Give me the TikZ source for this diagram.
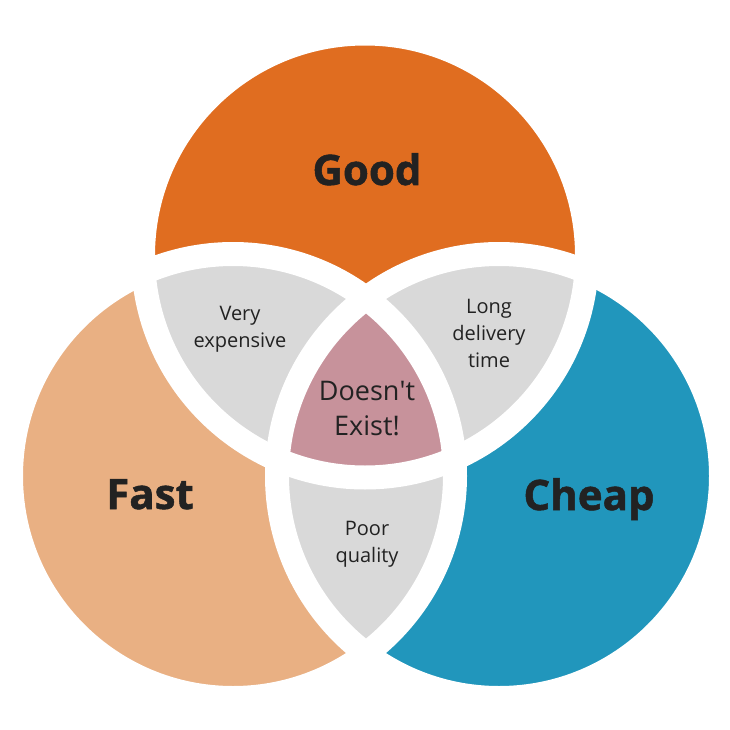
\documentclass[tikz,border=0pt]{standalone}
\usepackage{fontspec}
\setmainfont{Open Sans}
\newfontfamily\heavyfont[BoldFeatures={FakeBold=1.2}]{Open Sans}
\definecolor{goodorange}{HTML}{E06D20}
\definecolor{fastpeach}{HTML}{E9B083}
\definecolor{cheapblue}{HTML}{2196BC}
\definecolor{overlapgray}{HTML}{D9D9D9}
\definecolor{nonepink}{HTML}{C7929B}
\definecolor{labeltext}{HTML}{222222}
\tikzset{
  bigword/.style={text=labeltext, font=\heavyfont\fontsize{42}{50}\selectfont\bfseries, anchor=base},
  smallword/.style={text=labeltext, font=\fontsize{20}{27}\selectfont, align=center},
  midword/.style={text=labeltext, font=\fontsize{27}{35}\selectfont, align=center},
  gapline/.style={draw=white, line width=24pt}
}
\begin{document}
\begin{tikzpicture}[x=1pt,y=-1pt]
\useasboundingbox (0,0) rectangle (730,730);
\coordinate (good) at (365,255.5);
\coordinate (fast) at (233,476);
\coordinate (cheap) at (499,476);
% the three circles
\fill[goodorange] (good) circle[radius=222pt];
\fill[fastpeach] (fast) circle[radius=222pt];
\fill[cheapblue] (cheap) circle[radius=222pt];
% pairwise overlaps
\begin{scope}
\clip (good) circle[radius=222pt];
\fill[overlapgray] (fast) circle[radius=222pt];
\fill[overlapgray] (cheap) circle[radius=222pt];
\end{scope}
\begin{scope}
\clip (fast) circle[radius=222pt];
\fill[overlapgray] (cheap) circle[radius=222pt];
\clip (good) circle[radius=222pt];
\fill[nonepink] (cheap) circle[radius=222pt];
\end{scope}
% white gaps
\draw[gapline] (good) circle[radius=222pt];
\draw[gapline] (fast) circle[radius=222pt];
\draw[gapline] (cheap) circle[radius=222pt];
% labels
\node[bigword] (goodlabel) at (367,185) {Good};
\node[bigword] (fastlabel) at (150,509) {Fast};
\node[bigword] (cheaplabel) at (589,510) {Cheap};
\node[smallword] (expensive) at (240,329) {Very\\expensive};
\node[smallword] (delivery) at (489,333) {Long\\delivery\\time};
\node[midword] (noexist) at (367,409) {Doesn\textquotesingle t\\Exist!};
\node[smallword] (quality) at (367,544) {Poor\\quality};
\end{tikzpicture}
\end{document}
